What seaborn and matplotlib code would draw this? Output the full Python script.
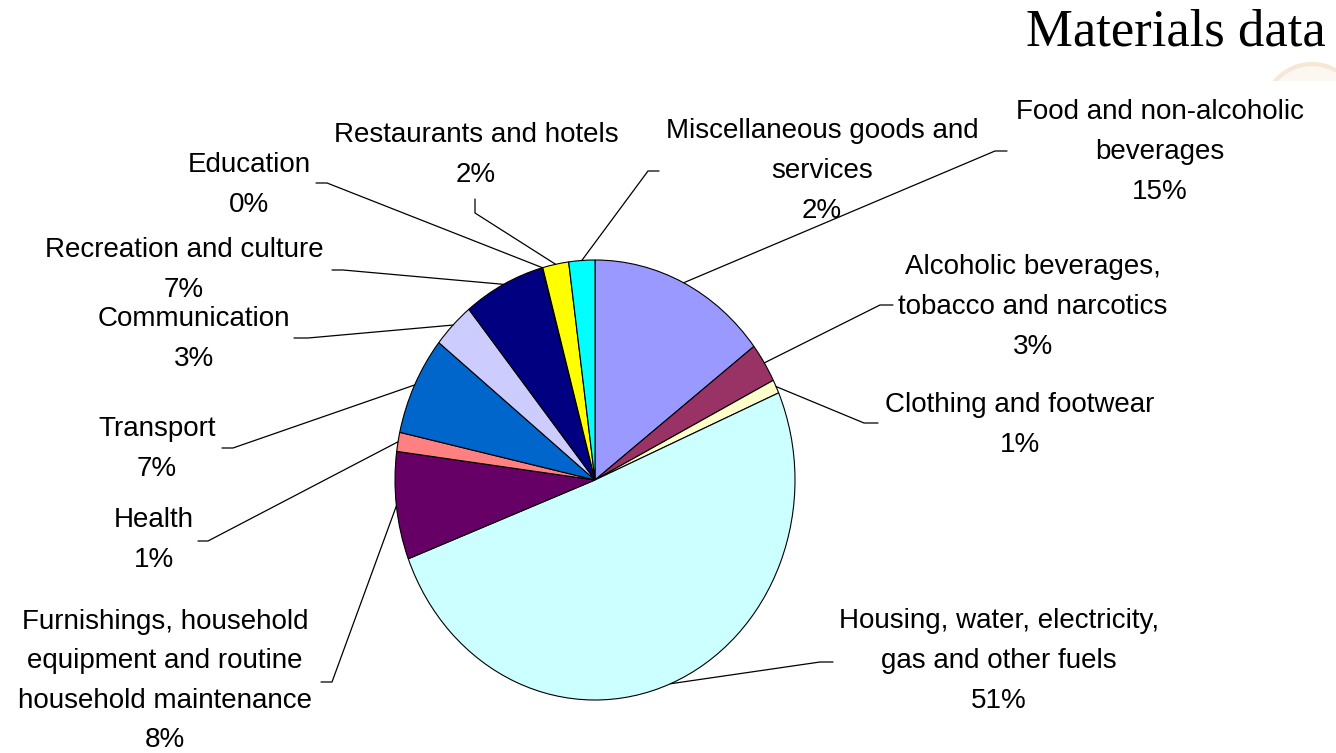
import matplotlib
matplotlib.use("Agg")
import matplotlib.pyplot as plt
import seaborn as sns
import numpy as np
from matplotlib.lines import Line2D
from matplotlib.patches import Ellipse, Rectangle

# ---------------- data ----------------
categories = [
    "Food and non-alcoholic\nbeverages",
    "Alcoholic beverages,\ntobacco and narcotics",
    "Clothing and footwear",
    "Housing, water, electricity,\ngas and other fuels",
    "Furnishings, household\nequipment and routine\nhousehold maintenance",
    "Health",
    "Transport",
    "Communication",
    "Recreation and culture",
    "Education",
    "Restaurants and hotels",
    "Miscellaneous goods and\nservices",
]
shares = [14.6, 2.9, 1.0, 50.6, 7.9, 1.4, 7.25, 3.4, 6.6, 0.05, 2.1, 2.1]
colors = ["#9999FF", "#993366", "#FFFFCC", "#CCFFFF", "#660066", "#FF8080",
          "#0066CC", "#CCCCFF", "#000080", "#FF00FF", "#FFFF00", "#00FFFF"]
title = "Materials data"

# ---------------- layout (pixels, top-left origin) ----------------
W, H = 1336, 753
label_centers = [(1160, 152), (1033, 307), (1020, 425), (999, 661), (165, 681),
                 (154, 540), (157, 449), (194, 339), (184, 270), (249, 185),
                 (476, 155), (822, 171)]
# leader lines: knee point then end point
leaders = [
    [(995, 151), (1007, 151)],
    [(880, 305), (893, 305)],
    [(864, 423), (878, 423)],
    [(820, 662), (833, 662)],
    [(332, 682), (321, 682)],
    [(208, 541), (198, 541)],
    [(233, 448), (222, 448)],
    [(308, 338), (294, 338)],
    [(343, 270), (332, 270)],
    [(327, 183), (316, 183)],
    [(475, 213), (475, 199)],
    [(648, 171), (659, 171)],
]

sns.set_theme(style="white")
plt.rcParams["font.family"] = ["Liberation Sans", "DejaVu Sans"]

fig = plt.figure(figsize=(W / 100, H / 100), dpi=100)
fig.patch.set_facecolor("white")


def fx(x):
    return x / W


def fy(y):
    return 1 - y / H


# faint logo at the top right, partly hidden
logo = Ellipse((fx(1312), fy(112)), 96 / W, 96 / H, transform=fig.transFigure,
               facecolor="#fcf7f1", edgecolor="#f6e7d6", lw=3, zorder=0)
fig.add_artist(logo)
fig.add_artist(Rectangle((0, 0), 1, fy(81), transform=fig.transFigure,
                         facecolor="white", edgecolor="none", zorder=0.5))

# pie axes: centre (595, 480), radius 200 x 220 px
cx, cy, rx, ry = 595, 480, 200, 220
ax = fig.add_axes([fx(cx - rx), fy(cy + ry), 2 * rx / W, 2 * ry / H])
ax.set_zorder(1)
ax.patch.set_alpha(0)
wedges, _ = ax.pie(shares, colors=colors, startangle=90, counterclock=False,
                   radius=1, center=(0, 0),
                   wedgeprops=dict(edgecolor="black", linewidth=0.8))
ax.set_aspect("auto")
ax.set_xlim(-1, 1)
ax.set_ylim(-1, 1)
ax.axis("off")

fig.canvas.draw()
inv = fig.transFigure.inverted()
total = sum(shares)
for w, lab, (tx, ty), pts, v in zip(wedges, categories, label_centers, leaders, shares):
    mid = np.deg2rad((w.theta1 + w.theta2) / 2)
    disp = ax.transData.transform((np.cos(mid), np.sin(mid)))
    p0 = inv.transform(disp)
    xs = [p0[0]] + [fx(p[0]) for p in pts]
    ys = [p0[1]] + [fy(p[1]) for p in pts]
    fig.add_artist(Line2D(xs, ys, transform=fig.transFigure, color="black",
                          lw=0.9, zorder=2))
    pct = f"{round(v / total * 100):d}%"
    fig.text(fx(tx), fy(ty), f"{lab}\n{pct}", ha="center", va="center",
             multialignment="center", fontsize=20, linespacing=1.68,
             color="black", zorder=3)

fig.text(fx(1326), fy(33), title, ha="right", va="center",
         family=["Liberation Serif", "DejaVu Serif"], fontsize=38, color="black",
         zorder=3)

fig.savefig("out.png", dpi=100, facecolor="white")
